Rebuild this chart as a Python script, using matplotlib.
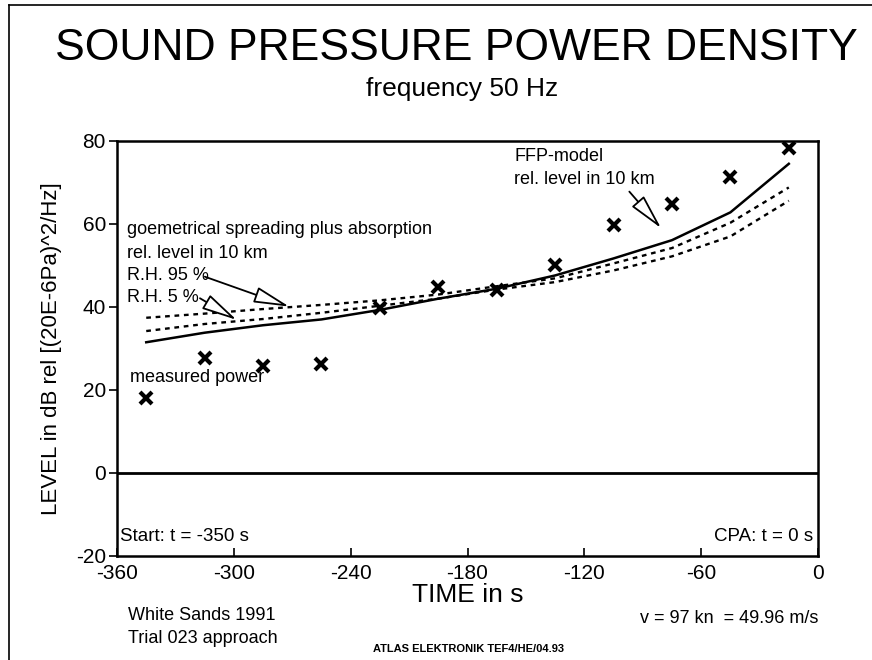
import matplotlib
matplotlib.use("Agg")
import matplotlib.pyplot as plt
from matplotlib import font_manager
from matplotlib.lines import Line2D

# time in s before CPA, all curves sampled every 30 s
time_s = [-345, -315, -285, -255, -225, -195, -165, -135, -105, -75, -45, -15]
measured = [18.0, 27.6, 25.8, 26.2, 39.8, 44.9, 44.1, 50.1, 59.8, 64.8, 71.4, 78.2]
ffp_model = [31.5, 33.8, 35.6, 37.0, 39.3, 42.0, 44.4, 47.6, 51.7, 56.1, 62.8, 74.5]
rh95 = [37.4, 38.4, 39.5, 40.5, 41.6, 43.0, 45.0, 46.9, 50.5, 54.2, 60.3, 68.8]
rh5 = [34.2, 35.9, 37.1, 38.6, 40.3, 42.0, 44.2, 46.0, 48.8, 52.2, 57.0, 65.6]

x_ticks = [-360, -300, -240, -180, -120, -60, 0]
y_ticks = [-20, 0, 20, 40, 60, 80]

names = {f.name for f in font_manager.fontManager.ttflist}
narrow = "Liberation Sans Narrow" if "Liberation Sans Narrow" in names else "Liberation Sans"
plt.rcParams["font.family"] = [narrow, "DejaVu Sans"]
plt.rcParams["axes.unicode_minus"] = False

fig = plt.figure(figsize=(8.72, 6.6), dpi=100)
ax = fig.add_axes([0.1342, 0.1576, 0.8039, 0.6288])

ax.plot(time_s, ffp_model, color="black", lw=1.8)
ax.plot(time_s, rh95, color="black", lw=1.7, dashes=(2, 2))
ax.plot(time_s, rh5, color="black", lw=1.7, dashes=(2, 2))
ax.plot(time_s, measured, ls="none", marker="x", ms=9, mew=3, color="black")
ax.axhline(0, color="black", lw=2)

ax.set_xlim(-360, 0)
ax.set_ylim(-20, 80)
ax.set_xticks(x_ticks)
ax.set_yticks(y_ticks)
ax.tick_params(axis="x", direction="in", length=6, width=1.2, labelsize=15, pad=6)
ax.tick_params(axis="y", direction="out", length=6, width=1.2, labelsize=15, pad=2)
for s in ax.spines.values():
    s.set_linewidth(1.8)

ax.set_xlabel("TIME in s", fontsize=19, labelpad=0)
ax.set_ylabel("LEVEL in dB rel [(20E-6Pa)^2/Hz]", fontsize=16, labelpad=10)

# annotations inside the plot
fs = 13
ax.text(-354.9, 58.6, "goemetrical spreading plus absorption", fontsize=fs, va="center")
ax.text(-354.9, 53.0, "rel. level in 10 km", fontsize=fs, va="center")
ax.text(-354.9, 47.7, "R.H. 95 %", fontsize=fs, va="center")
ax.text(-354.9, 42.4, "R.H. 5 %", fontsize=fs, va="center")
ax.text(-353.3, 22.9, "measured power", fontsize=fs, va="center")
ax.text(-155.9, 76.2, "FFP-model", fontsize=fs, va="center")
ax.text(-155.9, 70.6, "rel. level in 10 km", fontsize=fs, va="center")

arrow = dict(arrowstyle="-|>,head_length=2.2,head_width=0.5", fc="white",
             ec="black", lw=1.3, shrinkA=0, shrinkB=0)
ax.annotate("", xy=(-271.6, 40.1), xytext=(-314.9, 47.3), arrowprops=arrow)
ax.annotate("", xy=(-298.6, 36.9), xytext=(-317.4, 42.1), arrowprops=arrow)
ax.annotate("", xy=(-80.6, 59.0), xytext=(-96.9, 67.8), arrowprops=arrow)

ax.text(-358.5, -15.4, "Start: t = -350 s", fontsize=13.5, va="center")
ax.text(-2.5, -15.4, "CPA: t = 0 s", fontsize=13.5, va="center", ha="right")

# titles and footer
fig.text(0.523, 0.909, "SOUND PRESSURE POWER DENSITY", fontsize=32,
         ha="center", va="baseline")
fig.text(0.530, 0.855, "frequency 50 Hz", fontsize=19, ha="center", va="baseline")
fig.text(0.147, 0.068, "White Sands 1991", fontsize=13, va="center")
fig.text(0.147, 0.032, "Trial 023 approach", fontsize=13, va="center")
fig.text(0.939, 0.0636, "v = 97 kn  = 49.96 m/s", fontsize=13, va="center", ha="right")
fig.text(0.537, 0.016, "ATLAS ELEKTRONIK TEF4/HE/04.93", fontsize=8, va="center",
         ha="center", weight="bold")

# page frame (left and top edges only)
fig.add_artist(Line2D([0.010, 0.010], [0.0, 0.992], transform=fig.transFigure,
                      color="black", lw=1.2))
fig.add_artist(Line2D([0.010, 1.0], [0.992, 0.992], transform=fig.transFigure,
                      color="black", lw=1.2))

fig.savefig("out.png", dpi=100)
